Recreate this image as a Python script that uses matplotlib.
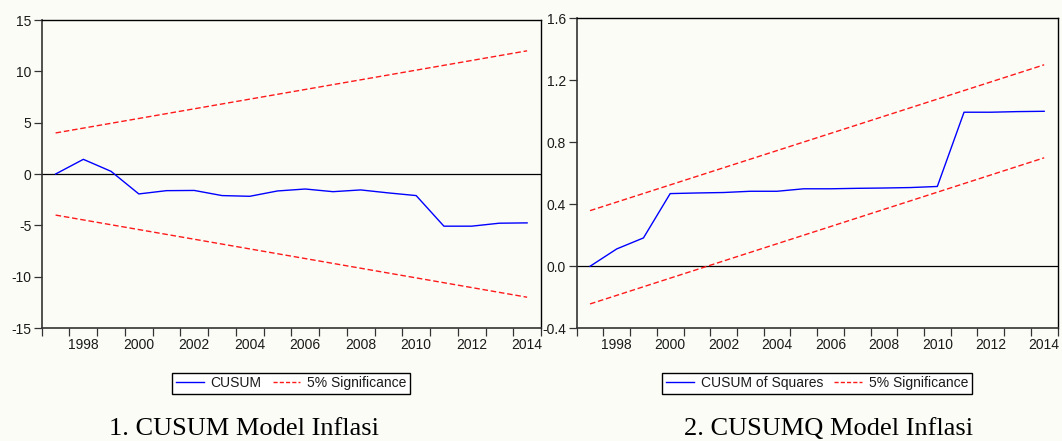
import matplotlib
matplotlib.use("Agg")
import matplotlib.pyplot as plt
from matplotlib.lines import Line2D
from matplotlib.ticker import FixedLocator, NullFormatter

# Recursive residual stability tests, annual sample 1997-2014
years = [1997, 1998, 1999, 2000, 2001, 2002, 2003, 2004, 2005,
         2006, 2007, 2008, 2009, 2010, 2011, 2012, 2013, 2014]

cusum = [0.0, 1.43, 0.26, -1.94, -1.62, -1.60, -2.10, -2.17, -1.65,
         -1.46, -1.72, -1.55, -1.84, -2.10, -5.08, -5.08, -4.79, -4.76]

cusumsq = [0.0, 0.112, 0.183, 0.469, 0.473, 0.476, 0.484, 0.484, 0.500,
           0.500, 0.503, 0.505, 0.508, 0.515, 0.994, 0.994, 0.998, 1.0]

# 5% significance bands (straight lines between the end years)
band_years = [1997, 2014]
cusum_upper = [4.0, 12.0]
cusum_lower = [-4.0, -12.0]
cusumsq_upper = [0.359, 1.300]
cusumsq_lower = [-0.243, 0.700]

cusum_yticks = [-15, -10, -5, 0, 5, 10, 15]
cusumsq_yticks = [-0.4, 0.0, 0.4, 0.8, 1.2, 1.6]
xtick_years = [1998, 2000, 2002, 2004, 2006, 2008, 2010, 2012, 2014]

plt.rcParams["font.family"] = ["Liberation Sans", "DejaVu Sans"]
BG = "#fcfcf7"
TXT = "#1a1a1a"
BLUE = "#0000ff"
RED = "#ff1a1a"

fig = plt.figure(figsize=(10.62, 4.41), dpi=100, facecolor=BG)

ax1 = fig.add_axes([0.0393, 0.2562, 0.4701, 0.6984])
ax2 = fig.add_axes([0.5430, 0.2556, 0.4528, 0.7029])


def style_axes(ax, yticks, yfmt):
    ax.set_facecolor(BG)
    ax.set_xlim(years[0] - 0.5, years[-1] + 0.5)
    ax.set_ylim(yticks[0], yticks[-1])
    ax.axhline(0, color="black", lw=0.9, zorder=1)
    ax.set_yticks(yticks)
    ax.set_yticklabels([yfmt.format(v) for v in yticks])
    ax.set_xticks(xtick_years)
    ax.set_xticklabels([str(y) for y in xtick_years])
    boundaries = [y - 0.5 for y in years] + [years[-1] + 0.5]
    ax.xaxis.set_minor_locator(FixedLocator(boundaries))
    ax.xaxis.set_minor_formatter(NullFormatter())
    ax.tick_params(axis="x", which="major", length=0, pad=7,
                   labelsize=10, labelcolor=TXT)
    ax.tick_params(axis="x", which="minor", length=5.5, width=0.9,
                   direction="out", color="#333333")
    ax.tick_params(axis="y", length=5.5, width=0.9, direction="out",
                   labelsize=10, labelcolor=TXT, color="#333333", pad=2)
    for side in ["left", "bottom"]:
        ax.spines[side].set_linewidth(1.2)
        ax.spines[side].set_color("#333333")
    for side in ["top", "right"]:
        ax.spines[side].set_linewidth(1.0)
        ax.spines[side].set_color("black")


style_axes(ax1, cusum_yticks, "{:d}")
ax1.plot(years, cusum, color=BLUE, lw=1.0, zorder=3)
ax1.plot(band_years, cusum_upper, color=RED, lw=1.0, ls=(0, (4, 2)), zorder=2)
ax1.plot(band_years, cusum_lower, color=RED, lw=1.0, ls=(0, (4, 2)), zorder=2)

style_axes(ax2, cusumsq_yticks, "{:.1f}")
ax2.plot(years, cusumsq, color=BLUE, lw=1.0, zorder=3)
ax2.plot(band_years, cusumsq_upper, color=RED, lw=1.0, ls=(0, (4, 2)), zorder=2)
ax2.plot(band_years, cusumsq_lower, color=RED, lw=1.0, ls=(0, (4, 2)), zorder=2)


def add_legend(label, cx):
    handles = [Line2D([], [], color=BLUE, lw=1.0),
               Line2D([], [], color=RED, lw=1.0, ls=(0, (3, 1.5)))]
    leg = fig.legend(handles, [label, "5% Significance"], ncol=2,
                     loc="center", bbox_to_anchor=(cx, 0.1308),
                     fontsize=10, frameon=True, fancybox=False,
                     edgecolor="black", facecolor="white", framealpha=1,
                     handlelength=2.0, handletextpad=0.5,
                     columnspacing=0.8, borderpad=0.25)
    leg.get_frame().set_linewidth(1.0)
    for t in leg.get_texts():
        t.set_color(TXT)


add_legend("CUSUM", 0.2743)
add_legend("CUSUM of Squares", 0.7693)

fig.text(0.2298, 0.014, "1. CUSUM Model Inflasi", ha="center", va="baseline",
         fontsize=19, family=["Liberation Serif", "DejaVu Serif"], color="black")
fig.text(0.7806, 0.014, "2. CUSUMQ Model Inflasi", ha="center", va="baseline",
         fontsize=19, family=["Liberation Serif", "DejaVu Serif"], color="black")

fig.savefig("out.png", dpi=100, facecolor=BG)
